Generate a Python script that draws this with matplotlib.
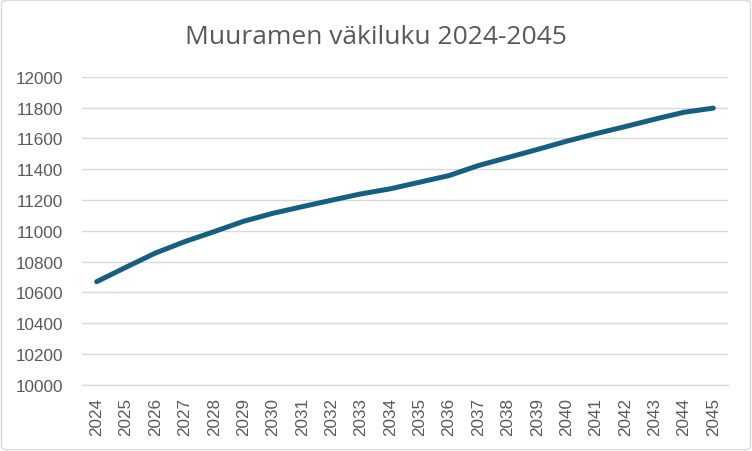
import matplotlib
matplotlib.use("Agg")
import matplotlib.pyplot as plt
from matplotlib.patches import FancyBboxPatch

years = [str(y) for y in range(2024, 2046)]
population = [10669, 10763, 10855, 10929, 10994, 11061, 11113, 11156, 11198, 11239,
              11272, 11315, 11358, 11423, 11475, 11527, 11581, 11630, 11676, 11724,
              11769, 11796]
y_ticks = list(range(10000, 12001, 200))
title = "Muuramen väkiluku 2024-2045"

plt.rcParams['font.family'] = ['Liberation Sans', 'DejaVu Sans']

fig = plt.figure(figsize=(7.52, 4.52), dpi=100)
ax = fig.add_axes([82/752, 1-385.7/452, (728-82)/752, (385.7-77.7)/452])

x = list(range(len(years)))
ax.plot(x, population, color='#156082', linewidth=3.6, solid_capstyle='round', solid_joinstyle='round', zorder=3)

ax.set_xlim(-0.5, len(years) - 0.5)
ax.set_ylim(10000, 12000)
ax.set_yticks(y_ticks)
ax.set_yticklabels([str(v) for v in y_ticks])
ax.set_xticks(x)
ax.set_xticklabels(years, rotation=90)
ax.grid(axis='y', color='#D9D9D9', linewidth=1.0)
ax.set_axisbelow(True)
for s in ['top', 'right', 'left']:
    ax.spines[s].set_visible(False)
ax.spines['bottom'].set_color('#D9D9D9')
ax.spines['bottom'].set_linewidth(1.0)
ax.tick_params(axis='both', length=0, colors='#595959', labelsize=12.3)
ax.tick_params(axis='y', pad=13.5)
ax.tick_params(axis='x', pad=8.5)

fig.text(0.5, 1 - 37/452, title, ha='center', va='center', fontsize=19,
         color='#595959', family=['Open Sans', 'DejaVu Sans'])

border = FancyBboxPatch((0.002, 0.003), 0.996, 0.994, boxstyle="round,pad=0,rounding_size=0.008",
                        transform=fig.transFigure, facecolor='none', edgecolor='#D9D9D9', linewidth=1.0)
fig.patches.append(border)

fig.savefig('out.png', dpi=100, facecolor='white')
